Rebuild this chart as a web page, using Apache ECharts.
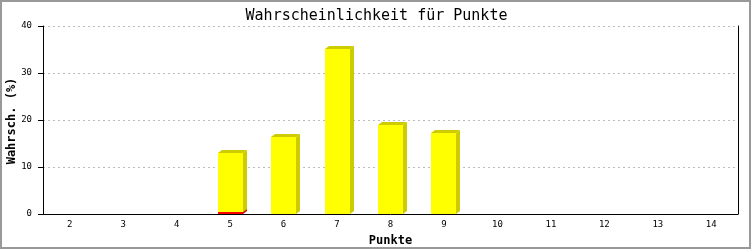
<!DOCTYPE html>
<html><head><meta charset="utf-8">
<script src="https://cdn.jsdelivr.net/npm/echarts@6/dist/echarts.min.js"></script>
<style>html,body{margin:0;padding:0;background:#fff}#c{width:753px;height:250px}</style>
</head><body><div id="c"></div>
<script>
const categories = ['2','3','4','5','6','7','8','9','10','11','12','13','14'];
const redValues = [0,0,0,0.4,0,0,0,0,0,0,0,0,0];
const yellowValues = [0,0,0,12.6,16.4,35.1,18.9,17.2,0,0,0,0,0];
const yTicks = {min:0, max:40, interval:10};
const yName = 'Wahrsch. (%)';

function makeRender(front, dark, baseArr){
  return function(params, api){
    const v = api.value(1);
    if (!v) return null;
    const b = baseArr ? baseArr[params.dataIndex] : 0;
    const base = api.coord([api.value(0), b]);
    const top = api.coord([api.value(0), b + v]);
    const bw = Math.round(api.size([1,0])[0]*0.47);
    const x = Math.round(top[0]-bw/2), yt = Math.round(top[1]), yb = Math.round(base[1]);
    const dx = 4, dy = 3;
    return {type:'group', children:[
      {type:'polygon', shape:{points:[[x+bw,yt],[x+bw+dx,yt-dy],[x+bw+dx,yb-dy],[x+bw,yb]]}, style:{fill:dark}},
      {type:'polygon', shape:{points:[[x,yt],[x+dx,yt-dy],[x+bw+dx,yt-dy],[x+bw,yt]]}, style:{fill:dark}},
      {type:'rect', shape:{x:x,y:yt,width:bw,height:Math.max(1,yb-yt)}, style:{fill:front}}
    ]};
  };
}
const mono = 'DejaVu Sans Mono';
const chart = echarts.init(document.getElementById('c'));
chart.setOption({
  animation:false,
  backgroundColor:'#fff',
  title:{text:'Wahrscheinlichkeit für Punkte', left:'center', top:4,
    textStyle:{fontFamily:mono, fontSize:15, fontWeight:'normal', color:'#000'}},
  grid:{left:43, right:15, top:26, bottom:36, containLabel:false, outerBoundsMode:'none'},
  xAxis:{type:'category', data:categories,
    axisLine:{lineStyle:{color:'#000', width:1}}, axisTick:{show:false},
    axisLabel:{fontFamily:mono, fontSize:9, color:'#000', margin:6},
    name:'Punkte', nameLocation:'middle', nameGap:21,
    nameTextStyle:{fontFamily:mono, fontSize:12, fontWeight:'bold', color:'#000'}},
  yAxis:[{type:'value', min:yTicks.min, max:yTicks.max, interval:yTicks.interval,
    axisLine:{show:true, lineStyle:{color:'#000'}},
    axisTick:{show:true, inside:false, length:5, lineStyle:{color:'#000'}},
    axisLabel:{fontFamily:mono, fontSize:9, color:'#000', margin:11},
    splitLine:{show:true, lineStyle:{color:'#bbb', type:[2,3]}}},
    {type:'value', position:'right', min:yTicks.min, max:yTicks.max, interval:yTicks.interval,
    axisLine:{show:true, lineStyle:{color:'#000'}}, axisTick:{show:false}, axisLabel:{show:false}, splitLine:{show:false}}],
  graphic:[
    {type:'rect', shape:{x:1,y:1,width:749,height:247}, style:{fill:null, stroke:'#999', lineWidth:2}, silent:true, z:100},
    {type:'text', x:12, y:121, rotation:Math.PI/2, silent:true,
      style:{text:yName, align:'center', verticalAlign:'middle', fill:'#000', font:'bold 12px "DejaVu Sans Mono"'}}
  ],
  series:[
    {type:'custom', renderItem:makeRender('#ff0000','#cc0000', null), data:redValues.map((v,i)=>[i,v]), z:2},
    {type:'custom', renderItem:makeRender('#ffff00','#cccc00', redValues), data:yellowValues.map((v,i)=>[i,v]), z:3}
  ]
});
</script></body></html>
